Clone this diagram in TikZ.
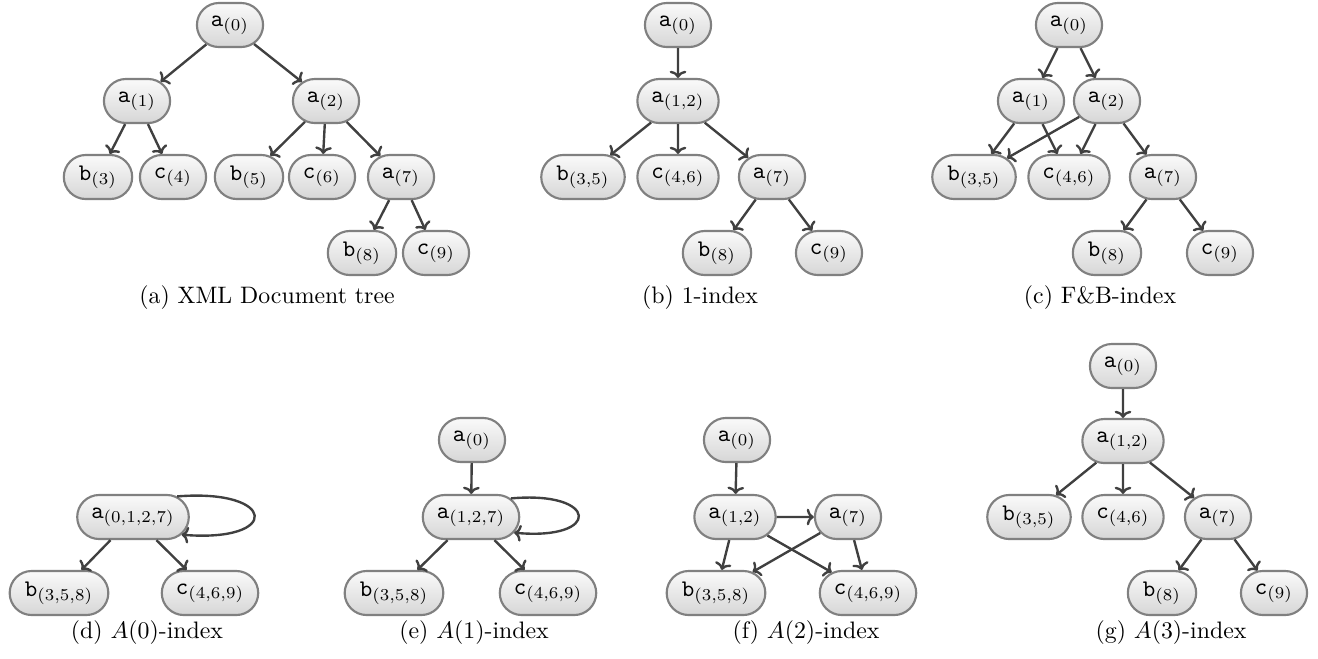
\documentclass[tikz,border=0pt]{standalone}
\usepackage{amsmath}
\usetikzlibrary{shapes.misc,arrows.meta}
\definecolor{idxline}{RGB}{128,128,128}
\definecolor{idxarrow}{RGB}{64,64,64}

\tikzset{
  idx/.style={rounded rectangle, draw=idxline, line width=0.9pt,
    top color=gray!4, bottom color=gray!32,
    minimum height=18.5pt, inner xsep=5pt, inner ysep=0pt},
  ptr/.style={-{To[length=3pt,width=7pt]}, draw=idxarrow, line width=1pt},
}

\begin{document}
\begin{tikzpicture}[x=0.42pt, y=-0.42pt]
\useasboundingbox (0,0) rectangle (1318,658);

% (a) the document tree
\node[idx] (a-a0) at (230,25) {\texttt{a}$_{(0)}$};
\node[idx] (a-a1) at (137,101) {\texttt{a}$_{(1)}$};
\node[idx] (a-a2) at (326,101) {\texttt{a}$_{(2)}$};
\node[idx] (a-b3) at (98,177) {\texttt{b}$_{(3)}$};
\node[idx] (a-c4) at (173,177) {\texttt{c}$_{(4)}$};
\node[idx] (a-b5) at (249,177) {\texttt{b}$_{(5)}$};
\node[idx] (a-c6) at (322,177) {\texttt{c}$_{(6)}$};
\node[idx] (a-a7) at (401,177) {\texttt{a}$_{(7)}$};
\node[idx] (a-b8) at (362,253) {\texttt{b}$_{(8)}$};
\node[idx] (a-c9) at (436,253) {\texttt{c}$_{(9)}$};
\draw[ptr] (a-a0) -- (a-a1);
\draw[ptr] (a-a0) -- (a-a2);
\draw[ptr] (a-a1) -- (a-b3);
\draw[ptr] (a-a1) -- (a-c4);
\draw[ptr] (a-a2) -- (a-b5);
\draw[ptr] (a-a2) -- (a-c6);
\draw[ptr] (a-a2) -- (a-a7);
\draw[ptr] (a-a7) -- (a-b8);
\draw[ptr] (a-a7) -- (a-c9);
\node (a-cap) at (267,298) {(a) XML Document tree};

% (b) 1-index
\node[idx] (b-a0) at (678,25) {\texttt{a}$_{(0)}$};
\node[idx] (b-a12) at (678,101) {\texttt{a}$_{(1,2)}$};
\node[idx] (b-b35) at (583,177) {\texttt{b}$_{(3,5)}$};
\node[idx] (b-c46) at (678,177) {\texttt{c}$_{(4,6)}$};
\node[idx] (b-a7) at (772,177) {\texttt{a}$_{(7)}$};
\node[idx] (b-b8) at (717,253) {\texttt{b}$_{(8)}$};
\node[idx] (b-c9) at (829,253) {\texttt{c}$_{(9)}$};
\draw[ptr] (b-a0) -- (b-a12);
\draw[ptr] (b-a12) -- (b-b35);
\draw[ptr] (b-a12) -- (b-c46);
\draw[ptr] (b-a12) -- (b-a7);
\draw[ptr] (b-a7) -- (b-b8);
\draw[ptr] (b-a7) -- (b-c9);
\node (b-cap) at (700,298) {(b) 1-index};

% (c) F&B-index
\node[idx] (c-a0) at (1069,25) {\texttt{a}$_{(0)}$};
\node[idx] (c-a1) at (1031,101) {\texttt{a}$_{(1)}$};
\node[idx] (c-a2) at (1107,101) {\texttt{a}$_{(2)}$};
\node[idx] (c-b35) at (974,177) {\texttt{b}$_{(3,5)}$};
\node[idx] (c-c46) at (1069,177) {\texttt{c}$_{(4,6)}$};
\node[idx] (c-a7) at (1163,177) {\texttt{a}$_{(7)}$};
\node[idx] (c-b8) at (1107,253) {\texttt{b}$_{(8)}$};
\node[idx] (c-c9) at (1220,253) {\texttt{c}$_{(9)}$};
\draw[ptr] (c-a0) -- (c-a1);
\draw[ptr] (c-a0) -- (c-a2);
\draw[ptr] (c-a1) -- (c-b35);
\draw[ptr] (c-a1) -- (c-c46);
\draw[ptr] (c-a2) -- (c-b35);
\draw[ptr] (c-a2) -- (c-c46);
\draw[ptr] (c-a2) -- (c-a7);
\draw[ptr] (c-a7) -- (c-b8);
\draw[ptr] (c-a7) -- (c-c9);
\node (c-cap) at (1100,298) {(c) F\&B-index};

% (d) A(0)-index
\node[idx] (d-a0127) at (133,517) {\texttt{a}$_{(0,1,2,7)}$};
\node[idx] (d-b358) at (59,593) {\texttt{b}$_{(3,5,8)}$};
\node[idx] (d-c469) at (210,593) {\texttt{c}$_{(4,6,9)}$};
\draw[ptr] (d-a0127) -- (d-b358);
\draw[ptr] (d-a0127) -- (d-c469);
\draw[ptr] (d-a0127.25) .. controls +(100,-8) and +(100,8) .. (d-a0127.-20);
\node (d-cap) at (147,633) {(d) $A(0)$-index};

% (e) A(1)-index
\node[idx] (e-a0) at (472,440) {\texttt{a}$_{(0)}$};
\node[idx] (e-a127) at (471,517) {\texttt{a}$_{(1,2,7)}$};
\node[idx] (e-b358) at (394,593) {\texttt{b}$_{(3,5,8)}$};
\node[idx] (e-c469) at (548,593) {\texttt{c}$_{(4,6,9)}$};
\draw[ptr] (e-a0) -- (e-a127);
\draw[ptr] (e-a127) -- (e-b358);
\draw[ptr] (e-a127) -- (e-c469);
\draw[ptr] (e-a127.25) .. controls +(88,-8) and +(88,8) .. (e-a127.-20);
\node (e-cap) at (474,633) {(e) $A(1)$-index};

% (f) A(2)-index
\node[idx] (f-a0) at (737,440) {\texttt{a}$_{(0)}$};
\node[idx] (f-a12) at (735,517) {\texttt{a}$_{(1,2)}$};
\node[idx] (f-a7) at (848,517) {\texttt{a}$_{(7)}$};
\node[idx] (f-b358) at (716,593) {\texttt{b}$_{(3,5,8)}$};
\node[idx] (f-c469) at (868,593) {\texttt{c}$_{(4,6,9)}$};
\draw[ptr] (f-a0) -- (f-a12);
\draw[ptr] (f-a12) -- (f-a7);
\draw[ptr] (f-a12) -- (f-b358);
\draw[ptr] (f-a12) -- (f-c469);
\draw[ptr] (f-a7) -- (f-b358);
\draw[ptr] (f-a7) -- (f-c469);
\node (f-cap) at (806,633) {(f) $A(2)$-index};

% (g) A(3)-index
\node[idx] (g-a0) at (1123,366) {\texttt{a}$_{(0)}$};
\node[idx] (g-a12) at (1123,441) {\texttt{a}$_{(1,2)}$};
\node[idx] (g-b35) at (1029,517) {\texttt{b}$_{(3,5)}$};
\node[idx] (g-c46) at (1123,517) {\texttt{c}$_{(4,6)}$};
\node[idx] (g-a7) at (1218,517) {\texttt{a}$_{(7)}$};
\node[idx] (g-b8) at (1162,593) {\texttt{b}$_{(8)}$};
\node[idx] (g-c9) at (1274,593) {\texttt{c}$_{(9)}$};
\draw[ptr] (g-a0) -- (g-a12);
\draw[ptr] (g-a12) -- (g-b35);
\draw[ptr] (g-a12) -- (g-c46);
\draw[ptr] (g-a12) -- (g-a7);
\draw[ptr] (g-a7) -- (g-b8);
\draw[ptr] (g-a7) -- (g-c9);
\node (g-cap) at (1171,633) {(g) $A(3)$-index};
\end{tikzpicture}
\end{document}
